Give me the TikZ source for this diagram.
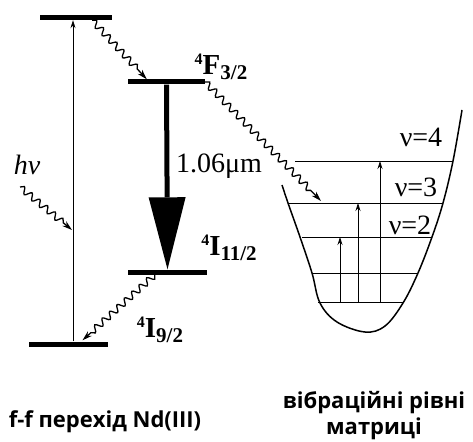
\documentclass[tikz,border=0pt]{standalone}
\usepackage{fontspec}
\setmainfont{Liberation Serif}
\setsansfont{Open Sans}
\usepackage{tikz}
\usetikzlibrary{calc}
\usetikzlibrary{arrows.meta}
\usetikzlibrary{decorations.pathmorphing}

\newcommand{\termsym}[3]{\textbf{\raisebox{10pt}{\fontsize{16}{16}\selectfont #1}\fontsize{29}{29}\selectfont #2\raisebox{-5pt}{\fontsize{21}{21}\selectfont #3}}}

\begin{document}
\begin{tikzpicture}[
        x=1pt, y=-1pt,
        >={Stealth[length=8pt,width=5pt]},
        level/.style={fill=black, inner sep=0pt, minimum height=5pt, minimum width=#1},
        trans/.style={->, line width=0.8pt},
        wavy/.style={-{Stealth[length=10pt,width=6pt]}, line width=1.3pt, decorate,
            decoration={snake, segment length=10pt, amplitude=3.2pt, post length=10pt}},
        lbl/.style={inner sep=0pt, font=\fontsize{28}{28}\selectfont},
        caption/.style={inner sep=0pt, font=\sffamily\bfseries\fontsize{22}{26}\selectfont, align=center},
    ]
    \useasboundingbox (0,0) rectangle (473,441);

    % Nd(III) levels
    \node [level=72] (top)  at ( 76,17.5) {};
    \node [level=77] (f32)  at (166.5,82) {};
    \node [level=79] (i112) at (167.5,272) {};
    \node [level=79] (i92)  at ( 68.5,344) {};

    \coordinate (exc) at (73,0);
    \draw [trans] (i92.north -| exc) -- (top.south -| exc);
    \draw [line width=5pt, -{Triangle[length=72pt,width=37pt,line width=0pt]}] (f32.south) -- (i112.north);

    \coordinate (photon) at (20,187);
    \coordinate (hit) at (72,230);
    \draw [wavy] (photon) -- (hit);
    \draw [wavy] ($(top.south east)+(-20,0)$) -- ($(f32.north west)+(19,0)$);
    \draw [wavy] ($(i112.south west)+(27,0)$) -- ($(i92.north)+(14,-1)$);

    \node [lbl] (hv)  at ( 27,165) {\itshape hν};
    \node [lbl] (wl)  at (219,166) {1.06μm};
    \node [lbl] (lF)  at (221, 67) {\termsym{4}{F}{3/2}};
    \node [lbl] (lI1) at (229,248) {\termsym{4}{I}{11/2}};
    \node [lbl] (lI9) at (160,330) {\termsym{4}{I}{9/2}};

    % host vibrational levels
    \draw [line width=1.5pt] plot [smooth, tension=0.6] coordinates {
        (282,185) (288,203) (300,237) (312,273) (320,303) (337,322) (365,332)
        (385,326) (403,303) (418,273) (432,237) (443,203) (453,161) (462,110)};
    \foreach \n/\y/\xl/\xr in {4/161/295/453, 3/203/288/443, 2/237/302/432, 1/273/312/417, 0/302/318/403}{
        \coordinate (v\n l) at (\xl,\y);
        \coordinate (v\n r) at (\xr,\y);
        \draw [line width=0.8pt] (v\n l) -- (v\n r);
    }
    \coordinate (c2) at (340,0);
    \coordinate (c3) at (358,0);
    \coordinate (c4) at (380,0);
    \foreach \n in {2,3,4}
        \draw [trans] (v0l -| c\n) -- (v\n l -| c\n);

    \draw [wavy] (f32.east) -- ($(v3l)+(33,-2)$);

    \node [lbl] (n4) at (421,137) {ν=4};
    \node [lbl] (n3) at (416,187) {ν=3};
    \node [lbl] (n2) at (410,225) {ν=2};

    \node [caption] (ffcap)  at (105,422) {f-f перехід Nd(III)};
    \node [caption] (vibcap) at (374,416) {вібраційні рівні\\матриці};
\end{tikzpicture}
\end{document}
